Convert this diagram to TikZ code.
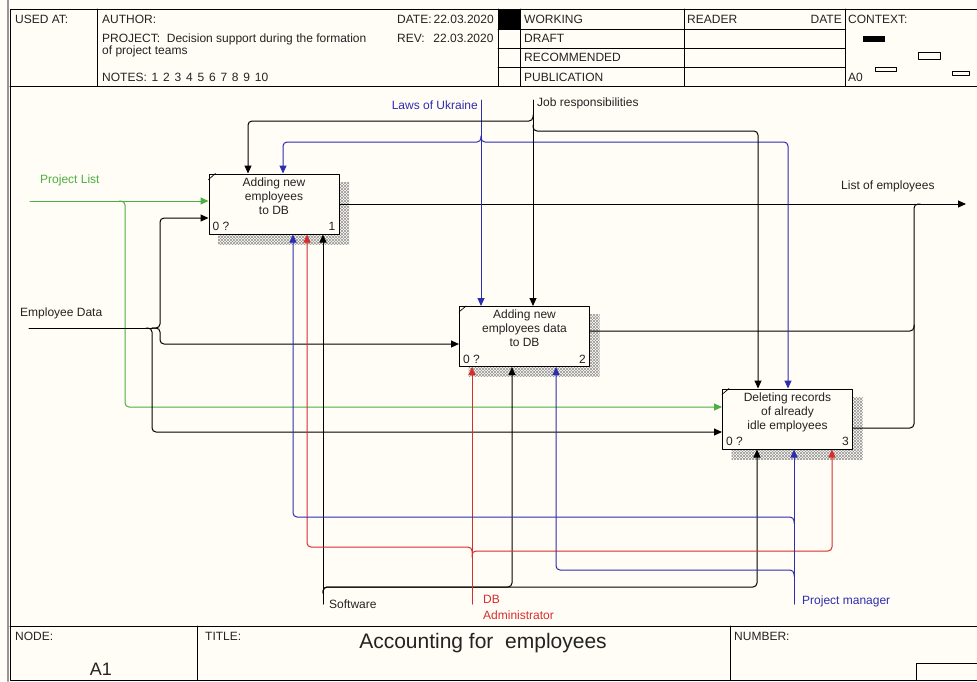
\documentclass[tikz,border=0pt]{standalone}
\usepackage{fontspec}
\setmainfont{Liberation Sans}
\usetikzlibrary{arrows.meta,patterns,calc}
\definecolor{paper}{RGB}{255,253,245}
\definecolor{idefblue}{RGB}{45,45,175}
\definecolor{idefred}{RGB}{215,45,45}
\definecolor{idefgreen}{RGB}{75,175,65}
\definecolor{framegray}{RGB}{150,150,150}
\definecolor{ink}{RGB}{35,35,35}
\tikzset{
  act/.style={draw,fill=paper,line width=1pt,minimum width=130pt,minimum height=60pt,inner sep=0pt},
  acttext/.style={align=center,anchor=north,inner sep=0pt,yshift=-4pt},
  arr/.style={line width=1pt,rounded corners=4pt,-{Triangle[length=8pt,width=7pt]}},
  link/.style={line width=1pt,rounded corners=4pt},
  lbl/.style={anchor=base west,inner sep=0pt},
  frameline/.style={line width=1pt},
}
\newcommand{\gap}{\hspace{4.8pt}}
\begin{document}
\begin{tikzpicture}[x=1pt,y=-1pt,line cap=round,line join=round,font=\fontsize{12}{14}\selectfont,text=ink]
  \useasboundingbox (0,0) rectangle (977,681);
  \fill[paper] (0,0) rectangle (977,681);

  % header texts
  \node[lbl] (usedat) at (15,23) {USED AT:};
  \node[lbl] (author) at (102,23) {AUTHOR:};
  \node[lbl] (date) at (397,23) {DATE:\,22.03.2020};
  \node[lbl] (project) at (102,42) {PROJECT:\ \ Decision support during the formation};
  \node[lbl] (project2) at (102,54) {of project teams};
  \node[lbl] (rev) at (397,42) {REV:\ \ \,22.03.2020};
  \node[lbl] (notes) at (102,81) {NOTES:\gap 1\gap 2\gap 3\gap 4\gap 5\gap 6\gap 7\gap 8\gap 9\gap 10};
  \node[lbl] (working) at (524,23) {WORKING};
  \node[lbl] (draft) at (524,42) {DRAFT};
  \node[lbl] (recom) at (524,61) {RECOMMENDED};
  \node[lbl] (public) at (524,81) {PUBLICATION};
  \node[lbl] (reader) at (687,23) {READER};
  \node[anchor=base east,inner sep=0pt] (rdate) at (842,23) {DATE};
  \node[lbl] (context) at (848,23) {CONTEXT:};
  \node[lbl] (azero) at (848,81) {A0};

  % frame
  \draw[framegray,line width=2pt] (8,0) -- (8,681);
  \draw[frameline] (977,9) -- (10,9) -- (10,680) -- (977,680);
  \draw[frameline] (10,86) -- (977,86);
  \draw[frameline] (10,626) -- (977,626);
  \draw[frameline] (97,9) -- (97,86);
  \draw[frameline] (498,9) -- (498,86);
  \draw[frameline] (520,9) -- (520,86);
  \draw[frameline] (684,9) -- (684,86);
  \draw[frameline] (845,9) -- (845,86);
  \draw[frameline] (498,29) -- (845,29);
  \draw[frameline] (498,48) -- (845,48);
  \draw[frameline] (498,67) -- (845,67);
  \fill (498,9) rectangle (520,29);
  \fill (863,36) rectangle (885,42);
  \draw[frameline] (918,52) rectangle (940,59);
  \draw[frameline] (875,67) rectangle (896,71);
  \draw[frameline] (952,71) rectangle (969,75);
  \draw[frameline] (197,626) -- (197,680);
  \draw[frameline] (730,626) -- (730,680);
  \draw[frameline] (916,663) rectangle (977,680);

  % footer texts
  \node[lbl] (nodelbl) at (15,640) {NODE:};
  \node[anchor=base,inner sep=0pt,font=\fontsize{18}{20}\selectfont] (nodeno) at (101,675) {A1};
  \node[lbl] (titlelbl) at (205,640) {TITLE:};
  \node[anchor=base,inner sep=0pt,font=\fontsize{21}{24}\selectfont] (title) at (483,648) {Accounting for~ employees};
  \node[lbl] (numberlbl) at (734,640) {NUMBER:};

  % activity boxes
  \coordinate (c1) at (274,204);
  \coordinate (c2) at (524.5,336.5);
  \coordinate (c3) at (787.5,419);
  \foreach \c in {c1,c2,c3} {
    \fill[pattern=north east lines,pattern color=black!40] ($(\c)+(-56,-22)$) rectangle ($(\c)+(75,40)$);
    \fill[pattern=north west lines,pattern color=black!40] ($(\c)+(-56,-22)$) rectangle ($(\c)+(75,40)$);
  }
  \node[act] (b1) at (c1) {};
  \node[act] (b2) at (c2) {};
  \node[act] (b3) at (c3) {};
  \foreach \b in {b1,b2,b3}
    \draw[line width=0.7pt] ([yshift=-6pt]\b.north west) -- ([xshift=7pt]\b.north west);
  \node[acttext] (b1t) at (b1.north) {Adding new\\employees\\to DB};
  \node[acttext] (b2t) at (b2.north) {Adding new\\employees data\\to DB};
  \node[acttext] (b3t) at (b3.north) {Deleting records\\of already\\idle employees};
  \node[lbl] (b1q) at ([xshift=4pt,yshift=4pt]b1.south west) {0 ?};
  \node[lbl] (b2q) at ([xshift=4pt,yshift=4pt]b2.south west) {0 ?};
  \node[lbl] (b3q) at ([xshift=4pt,yshift=4pt]b3.south west) {0 ?};
  \node[anchor=base east,inner sep=0pt] (b1n) at ([xshift=-4pt,yshift=4pt]b1.south east) {1};
  \node[anchor=base east,inner sep=0pt] (b2n) at ([xshift=-4pt,yshift=4pt]b2.south east) {2};
  \node[anchor=base east,inner sep=0pt] (b3n) at ([xshift=-4pt,yshift=4pt]b3.south east) {3};

  % inputs
  \coordinate (plist) at (30,201);
  \coordinate (plistJ) at (125,201);
  \coordinate (plistD) at (125,407);
  \draw[arr,idefgreen] (plist) -- (plist -| b1.west);
  \draw[arr,idefgreen] ([xshift=-6pt]plistJ) -- (plistJ) -- (plistD) -- (plistD -| b3.west);
  \node[lbl,text=idefgreen] (plistlbl) at (40,183) {Project List};

  \coordinate (edata) at (29,328);
  \coordinate (edJ) at (152,328);
  \coordinate (edD) at (152,432);
  \coordinate (edV) at (160,328);
  \coordinate (edU) at (160,218);
  \coordinate (edR) at (160,344);
  \draw[link] (edata) -- (edJ);
  \draw[arr] ([xshift=-6pt]edJ) -- (edJ) -- (edD) -- (edD -| b3.west);
  \draw[arr] (edJ) -- (edV) -- (edU) -- (edU -| b1.west);
  \draw[arr] (edJ) -- (edV) -- (edR) -- (edR -| b2.west);
  \node[lbl] (edatalbl) at (20,316) {Employee Data};

  % outputs
  \coordinate (out) at (966,204);
  \coordinate (oJ) at (914,204);
  \coordinate (o2) at (914,331);
  \coordinate (o3) at (914,428);
  \draw[arr] (b1.east) -- (out);
  \draw[link] (o3 -| b3.east) -- (o3) -- (oJ) -- ([xshift=6pt]oJ);
  \draw[link] (o2 -| b2.east) -- (o2) -- ([yshift=6pt]o2);
  \node[lbl] (outlbl) at (841,189) {List of employees};

  % controls
  \coordinate (laws) at (481,100);
  \coordinate (lawsJ) at (481,142);
  \coordinate (lawsL) at (283,142);
  \coordinate (lawsR) at (788,142);
  \draw[arr,idefblue] (laws) -- (laws |- b2.north);
  \draw[arr,idefblue] ([yshift=6pt]lawsJ) -- (lawsJ) -- (lawsL) -- (lawsL |- b1.north);
  \draw[arr,idefblue] ([yshift=6pt]lawsJ) -- (lawsJ) -- (lawsR) -- (lawsR |- b3.north);
  \node[anchor=base east,inner sep=0pt,text=idefblue] (lawslbl) at (478,109) {Laws of Ukraine};

  \coordinate (job) at (533,100);
  \coordinate (jobJL) at (533,121);
  \coordinate (jobL) at (248,121);
  \coordinate (jobJR) at (533,131);
  \coordinate (jobR) at (758,131);
  \draw[arr] (job) -- (job |- b2.north);
  \draw[arr] ([yshift=6pt]jobJL) -- (jobJL) -- (jobL) -- (jobL |- b1.north);
  \draw[arr] ([yshift=6pt]jobJR) -- (jobJR) -- (jobR) -- (jobR |- b3.north);
  \node[lbl] (joblbl) at (537,106) {Job responsibilities};

  % mechanisms
  \coordinate (soft) at (323,604);
  \coordinate (softJ) at (323,587);
  \coordinate (softM) at (512,587);
  \coordinate (softR) at (757,587);
  \draw[arr] (soft) -- (soft |- b1.south);
  \draw[arr] ([yshift=-6pt]softJ) -- (softJ) -- (softR) -- (softR |- b3.south);
  \draw[arr] ([yshift=-6pt]softJ) -- (softJ) -- (softM) -- (softM |- b2.south);
  \node[lbl] (softlbl) at (329,608) {Software};

  \coordinate (dba) at (472,604);
  \coordinate (dbaJL) at (472,547);
  \coordinate (dbaL) at (307,547);
  \coordinate (dbaJR) at (472,551);
  \coordinate (dbaR) at (832,551);
  \draw[arr,idefred] (dba) -- (dba |- b2.south);
  \draw[arr,idefred] ([yshift=-6pt]dbaJL) -- (dbaJL) -- (dbaL) -- (dbaL |- b1.south);
  \draw[arr,idefred] ([yshift=-6pt]dbaJR) -- (dbaJR) -- (dbaR) -- (dbaR |- b3.south);
  \node[lbl,text=idefred] (dbalbl) at (483,603) {DB};
  \node[lbl,text=idefred] (dbalbl2) at (483,619) {Administrator};

  \coordinate (pm) at (794,604);
  \coordinate (pmJL) at (794,517);
  \coordinate (pmL) at (293,517);
  \coordinate (pmJM) at (794,570);
  \coordinate (pmM) at (556,570);
  \draw[arr,idefblue] (pm) -- (pm |- b3.south);
  \draw[arr,idefblue] ([yshift=-6pt]pmJL) -- (pmJL) -- (pmL) -- (pmL |- b1.south);
  \draw[arr,idefblue] ([yshift=-6pt]pmJM) -- (pmJM) -- (pmM) -- (pmM |- b2.south);
  \node[lbl,text=idefblue] (pmlbl) at (802,604) {Project manager};
\end{tikzpicture}
\end{document}
